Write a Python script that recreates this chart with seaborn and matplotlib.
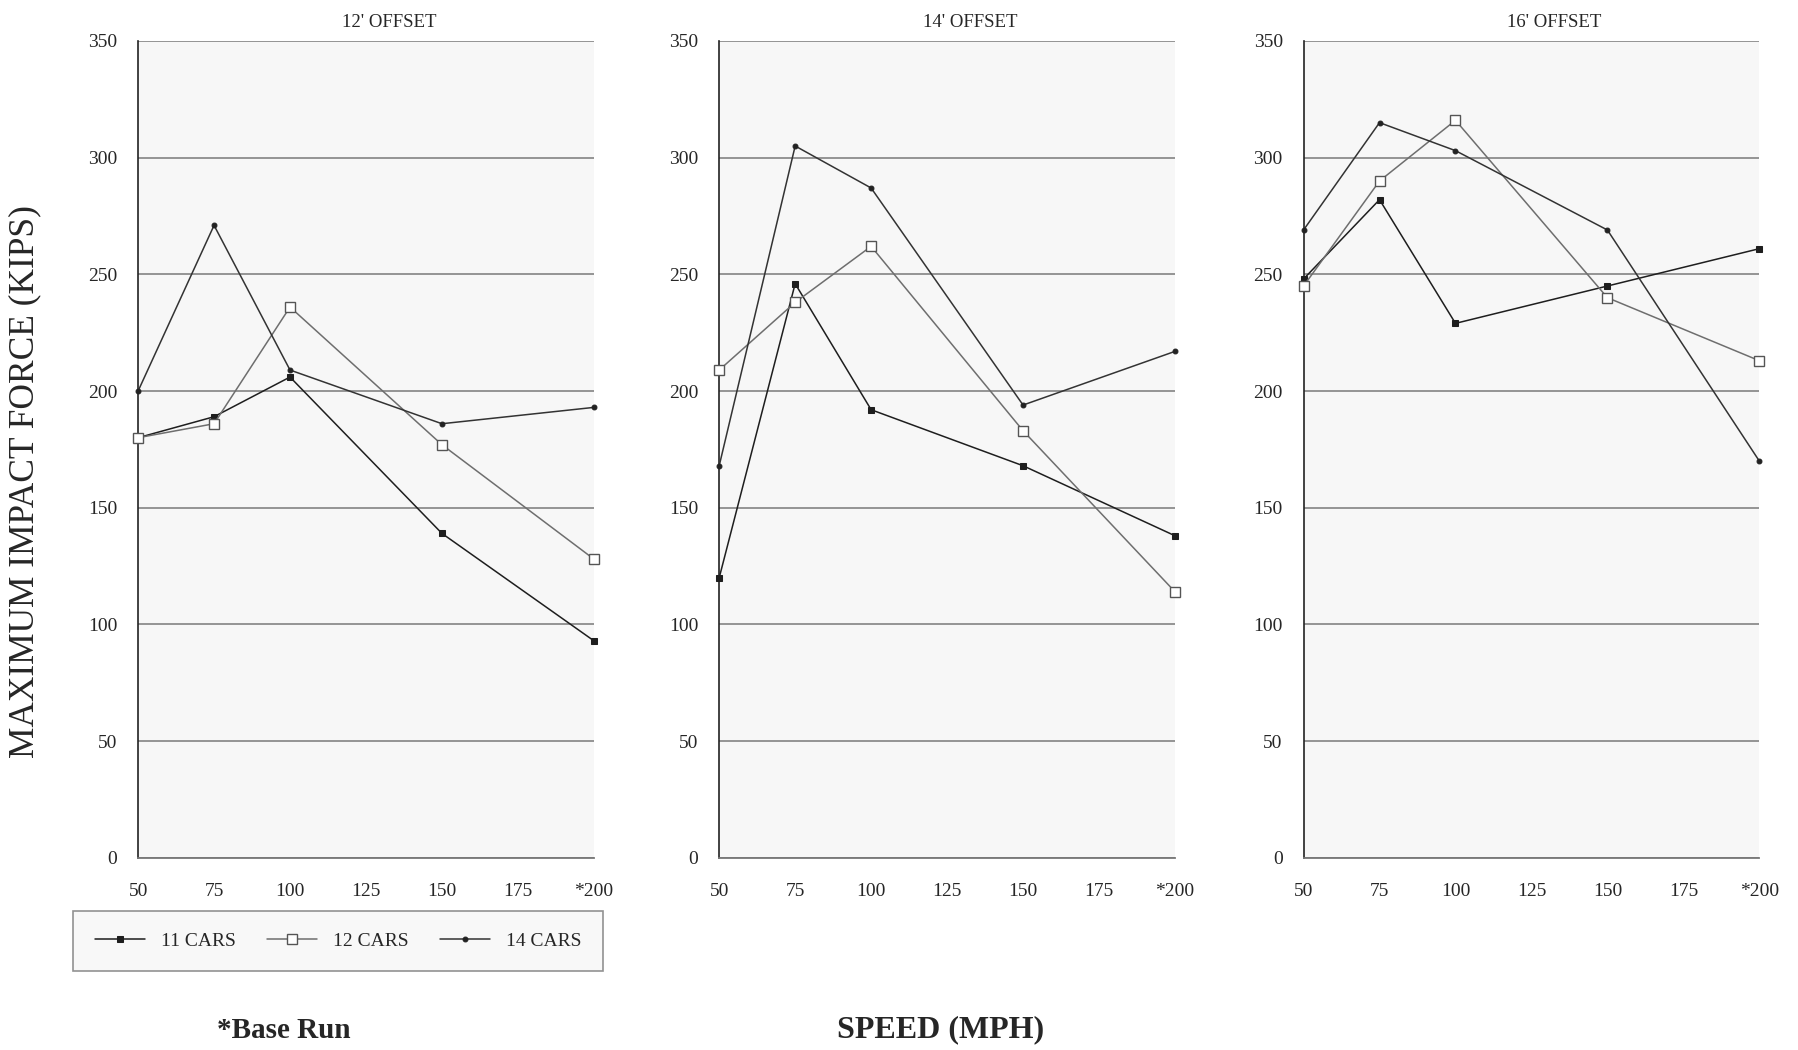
import matplotlib
matplotlib.use("Agg")
import matplotlib.pyplot as plt
import seaborn as sns
import pandas as pd

# speeds (mph) tested
speeds = [50, 75, 100, 150, 200]
x_ticks = [50, 75, 100, 125, 150, 175, 200]
x_tick_labels = ["50", "75", "100", "125", "150", "175", "*200"]
y_ticks = [0, 50, 100, 150, 200, 250, 300, 350]

panel_titles = ["12' OFFSET", "14' OFFSET", "16' OFFSET"]
series_names = ["11 CARS", "12 CARS", "14 CARS"]

# maximum impact force (kips), one list per panel
cars11 = [[180, 189, 206, 139, 93],
          [120, 246, 192, 168, 138],
          [248, 282, 229, 245, 261]]
cars12 = [[180, 186, 236, 177, 128],
          [209, 238, 262, 183, 114],
          [245, 290, 316, 240, 213]]
cars14 = [[200, 271, 209, 186, 193],
          [168, 305, 287, 194, 217],
          [269, 315, 303, 269, 170]]

sns.set_style("white")
plt.rcParams["font.family"] = ["Liberation Serif", "DejaVu Serif"]

fig = plt.figure(figsize=(17.98, 10.5), dpi=100)

# axes positions in figure fractions
lefts = [0.0768, 0.400, 0.725]
bottom, width, height = 0.183, 0.2535, 0.778

styles = {
    "11 CARS": dict(color="#1e1e1e", marker="s", markersize=4.5,
                    markerfacecolor="#1e1e1e", markeredgecolor="#1e1e1e"),
    "12 CARS": dict(color="#6e6e6e", marker="s", markersize=7,
                    markerfacecolor="white", markeredgecolor="#555555",
                    markeredgewidth=1.0),
    "14 CARS": dict(color="#333333", marker="o", markersize=3.5,
                    markerfacecolor="#222222", markeredgecolor="#222222"),
}

axes = []
for i, left in enumerate(lefts):
    ax = fig.add_axes([left, bottom, width, height])
    ax.set_facecolor("#f7f7f7")
    df = pd.DataFrame({
        "speed": speeds * 3,
        "force": cars11[i] + cars12[i] + cars14[i],
        "cars": [n for n in series_names for _ in speeds],
    })
    for name in series_names:
        sub = df[df["cars"] == name]
        sns.lineplot(data=sub, x="speed", y="force", ax=ax, label=name,
                     linewidth=1.1, clip_on=False, zorder=3, **styles[name])
    ax.set_xlim(50, 200)
    ax.set_ylim(0, 350)
    ax.set_xticks(x_ticks)
    ax.set_xticklabels(x_tick_labels)
    ax.set_yticks(y_ticks)
    ax.yaxis.grid(True, color="#8c8c8c", linewidth=1.3)
    ax.xaxis.grid(False)
    for s in ["top", "right"]:
        ax.spines[s].set_visible(False)
    ax.spines["left"].set_color("#222222")
    ax.spines["left"].set_linewidth(1.2)
    ax.spines["bottom"].set_color("#777777")
    ax.spines["bottom"].set_linewidth(1.3)
    ax.tick_params(axis="x", direction="inout", length=6, width=1,
                   color="#555555", pad=15, labelsize=14)
    ax.tick_params(axis="y", direction="out", length=3, width=1,
                   color="#555555", pad=12, labelsize=14)
    ax.set_xlabel("")
    ax.set_ylabel("")
    ax.set_title(panel_titles[i], fontsize=13.5, pad=10, x=0.55)
    ax.get_legend().remove()
    axes.append(ax)

handles, labels = axes[0].get_legend_handles_labels()
leg = fig.legend(handles, labels, loc="center", ncol=3,
                 bbox_to_anchor=(0.188, 0.104), fontsize=14,
                 frameon=True, fancybox=False, handlelength=2.6,
                 columnspacing=1.6, borderpad=1.1)
leg.get_frame().set_edgecolor("#777777")
leg.get_frame().set_linewidth(1.2)
leg.get_frame().set_facecolor("#f7f7f7")

fig.text(0.014, 0.541, "MAXIMUM IMPACT FORCE (KIPS)", rotation=90,
         ha="center", va="center", fontsize=25.5)
fig.text(0.523, 0.019, "SPEED (MPH)", ha="center", va="center",
         fontsize=23, fontweight="bold")
fig.text(0.158, 0.019, "*Base Run", ha="center", va="center",
         fontsize=21, fontweight="bold")

fig.savefig("out.png", dpi=100)
